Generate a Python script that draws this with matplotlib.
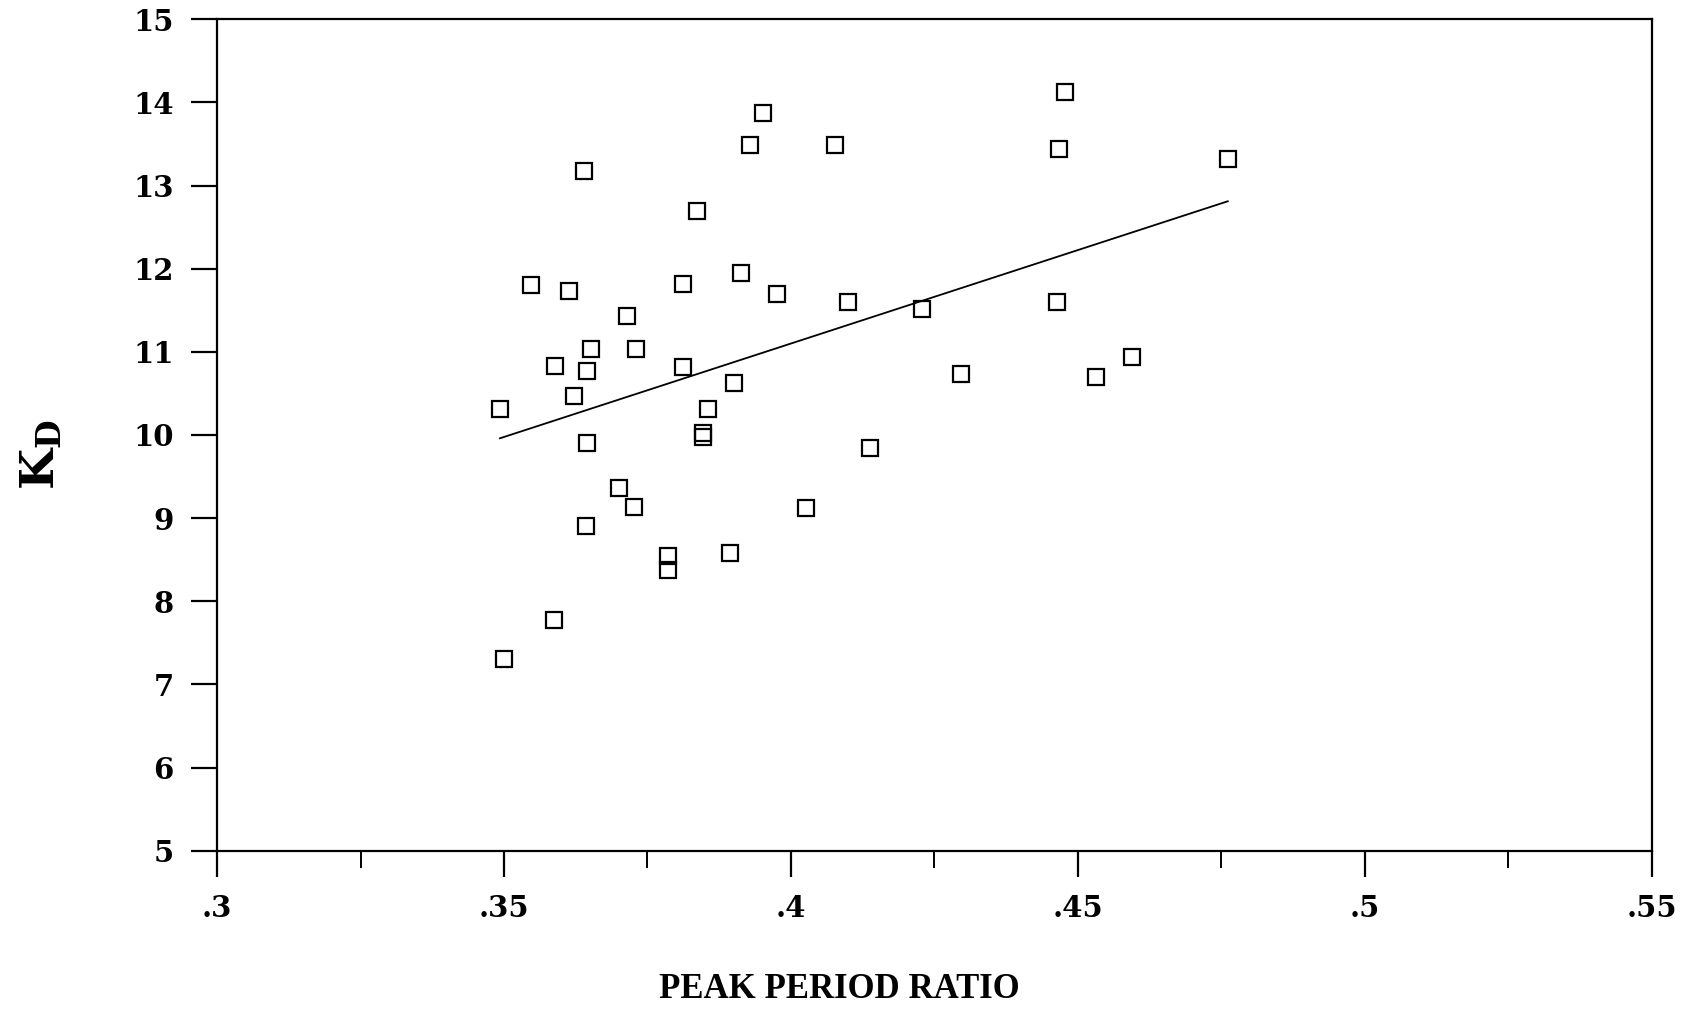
import matplotlib
matplotlib.use('Agg')
import matplotlib.pyplot as plt
from matplotlib.ticker import MultipleLocator, FixedLocator, FixedFormatter
import numpy as np

# peak period ratio vs. K_D, one box per record
ratio = [0.3493, 0.3500, 0.3547, 0.3587, 0.3589, 0.3613, 0.3622, 0.3639,
         0.3644, 0.3645, 0.3642, 0.3651, 0.3700, 0.3715, 0.3726, 0.3730,
         0.3785, 0.3785, 0.3811, 0.3811, 0.3836, 0.3847, 0.3847, 0.3855,
         0.3900, 0.3893, 0.3913, 0.3928, 0.3951, 0.3976, 0.4027, 0.4076,
         0.4100, 0.4138, 0.4229, 0.4297, 0.4464, 0.4467, 0.4477, 0.4532,
         0.4594, 0.4761]
kd = [10.31, 7.31, 11.80, 7.77, 10.83, 11.73, 10.47, 13.18,
      10.77, 9.90, 8.90, 11.03, 9.36, 11.43, 9.13, 11.03,
      8.55, 8.38, 11.82, 10.82, 12.69, 10.02, 9.97, 10.31,
      10.62, 8.58, 11.95, 13.49, 13.87, 11.69, 9.12, 13.49,
      11.60, 9.84, 11.51, 10.73, 11.60, 13.44, 14.12, 10.70,
      10.94, 13.32]

# least-squares line as printed
fit_slope = 22.48
fit_intercept = 2.108

xtick_vals = [0.3, 0.35, 0.4, 0.45, 0.5, 0.55]
xtick_labels = ['.3', '.35', '.4', '.45', '.5', '.55']
ytick_vals = [5, 6, 7, 8, 9, 10, 11, 12, 13, 14, 15]

plt.rcParams['mathtext.fontset'] = 'dejavuserif'

fig = plt.figure(figsize=(17.02, 10.11), dpi=100)
ax = fig.add_axes([0.1275, 0.1585, 0.9706 - 0.1275, 0.981 - 0.1585])

ax.plot(ratio, kd, linestyle='none', marker='s', markersize=11,
        markerfacecolor='none', markeredgecolor='black', markeredgewidth=1.6)

xfit = np.array([min(ratio), max(ratio)])
ax.plot(xfit, fit_intercept + fit_slope * xfit, color='black', linewidth=1.3)

ax.set_xlim(0.3, 0.55)
ax.set_ylim(5, 15)

ax.xaxis.set_major_locator(FixedLocator(xtick_vals))
ax.xaxis.set_major_formatter(FixedFormatter(xtick_labels))
ax.xaxis.set_minor_locator(MultipleLocator(0.025))
ax.yaxis.set_major_locator(FixedLocator(ytick_vals))

for s in ax.spines.values():
    s.set_linewidth(1.6)

ax.tick_params(axis='both', which='major', direction='out', length=19,
               width=1.6, pad=12)
ax.tick_params(axis='x', which='minor', direction='out', length=12, width=1.4)
ax.tick_params(axis='y', which='minor', left=False)

for lab in ax.get_xticklabels() + ax.get_yticklabels():
    lab.set_family('DejaVu Serif')
    lab.set_fontweight('bold')
    lab.set_fontsize(21)

fig.text(0.493, 0.021, 'PEAK PERIOD RATIO', ha='center', va='center',
         family='Liberation Serif', fontweight='bold', fontsize=25)
fig.text(0.025, 0.55, r'$\mathbf{K_D}$', ha='center', va='center',
         rotation=90, fontsize=34)

fig.savefig('out.png', dpi=100)
